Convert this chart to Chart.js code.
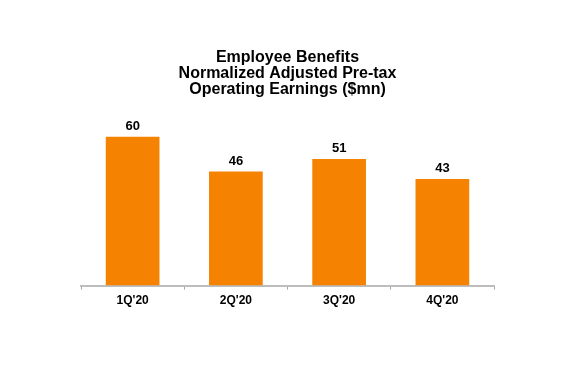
<!DOCTYPE html>
<html>
<head>
<meta charset="utf-8">
<script src="https://cdn.jsdelivr.net/npm/chart.js@4"></script>
<style>
  html, body { margin: 0; padding: 0; background: #fff; }
  #wrap { width: 580px; height: 375px; }
</style>
</head>
<body>
<div id="wrap"><canvas id="earningsChart"></canvas></div>
<script>
// Данные графика
const quarters = ["1Q'20", "2Q'20", "3Q'20", "4Q'20"];
const earnings = [60, 46, 51, 43];
const titleLines = ['Employee Benefits', 'Normalized Adjusted Pre-tax', 'Operating Earnings ($mn)'];

const barColor = '#F58200';

// Подписи значений над столбцами
const valueLabels = {
    id: 'valueLabels',
    afterDatasetsDraw(chart) {
        const ctx = chart.ctx;
        const meta = chart.getDatasetMeta(0);
        ctx.save();
        ctx.font = 'bold 13px "Liberation Sans", Arial, sans-serif';
        ctx.fillStyle = '#000';
        ctx.textAlign = 'center';
        ctx.textBaseline = 'alphabetic';
        meta.data.forEach((bar, i) => {
            ctx.fillText(String(earnings[i]), bar.x, bar.y - 7);
        });
        ctx.restore();
    }
};

document.addEventListener('DOMContentLoaded', function() {
    new Chart(document.getElementById('earningsChart'), {
        type: 'bar',
        data: {
            labels: quarters,
            datasets: [{
                data: earnings,
                backgroundColor: barColor,
                borderWidth: 0,
                barPercentage: 0.52,
                categoryPercentage: 1.0
            }]
        },
        options: {
            responsive: true,
            maintainAspectRatio: false,
            animation: false,
            layout: {
                padding: { left: 81, right: 86, top: 0, bottom: 63 }
            },
            plugins: {
                legend: { display: false },
                tooltip: { enabled: false },
                title: {
                    display: true,
                    text: titleLines,
                    color: '#000',
                    font: { family: '"Liberation Sans", Arial, sans-serif', size: 16, weight: 'bold', lineHeight: 1.0 },
                    padding: { top: 50, bottom: 14 }
                }
            },
            scales: {
                y: {
                    display: false,
                    min: 0,
                    max: 70
                },
                x: {
                    grid: {
                        offset: true,
                        drawOnChartArea: false,
                        drawTicks: true,
                        tickLength: 4,
                        tickWidth: 1,
                        tickColor: '#a6a6a6'
                    },
                    border: { display: true, color: '#bdbdbd', width: 2 },
                    ticks: {
                        color: '#000',
                        padding: 4,
                        font: { family: '"Liberation Sans", Arial, sans-serif', size: 12, weight: 'bold' }
                    }
                }
            }
        },
        plugins: [valueLabels]
    });
});
</script>
</body>
</html>
